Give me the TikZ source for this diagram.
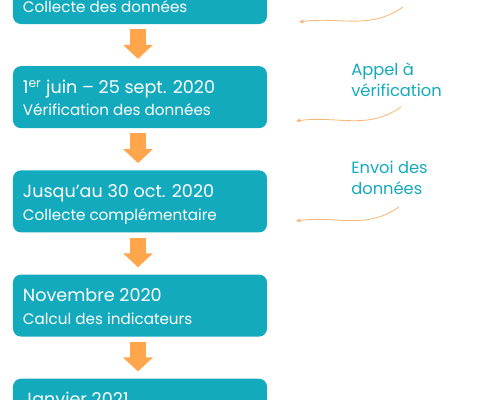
\documentclass[tikz,border=0pt]{standalone}
\usepackage{fontspec}
\setmainfont{Poppins}
\usepackage{xcolor}
\usepackage{tikz}
\usetikzlibrary{positioning,arrows.meta}

\definecolor{boxteal}{HTML}{13AABD}
\definecolor{arroworange}{HTML}{FFA64D}
\definecolor{linkorange}{HTML}{F9B878}

\begin{document}
\begin{tikzpicture}[x=0.025cm,y=0.025cm,
    stepbox/.style={fill=boxteal, rounded corners=0.2cm, minimum width=6.35cm,
        minimum height=1.55cm, inner sep=0pt},
    datetext/.style={anchor=base west, inner sep=0pt, text=white,
        font=\fontsize{12.5}{14}\selectfont},
    steptext/.style={anchor=base west, inner sep=0pt, text=white,
        font=\fontsize{10.8}{12}\selectfont},
    bigarrow/.style={draw=arroworange, line width=0.375cm,
        -{Triangle[width=0.725cm,length=0.35cm]},
        shorten <=0.125cm, shorten >=0.175cm},
    linkarrow/.style={draw=linkorange, line width=0.6pt,
        -{Stealth[length=3.5pt,width=3pt]}},
    linklabel/.style={anchor=base west, inner sep=0pt, align=left, text=boxteal,
        font=\fontsize{11.6}{15.4}\selectfont}]

    % frame
    \useasboundingbox (0,0) rectangle (480,-400);
    \clip (0,0) rectangle (480,-400);

    % steps
    \node[stepbox] (collecte) at (140,7) {};
    \node[stepbox, below=1.04cm of collecte] (verif) {};
    \node[stepbox, below=1.04cm of verif] (complement) {};
    \node[stepbox, below=1.04cm of complement] (calcul) {};
    \node[stepbox, below=1.04cm of calcul] (janvier) {};

    % step texts
    \node[steptext] (collectetxt) at ([shift={(10,-51)}]collecte.north west) {Collecte des données};
    \node[datetext] (verifdate) at ([shift={(10,-27.3)}]verif.north west) {1\textsuperscript{er} juin -- 25 sept. 2020};
    \node[steptext] (veriftxt) at ([shift={(10,-50)}]verif.north west) {Vérification des données};
    \node[datetext] (complementdate) at ([shift={(10,-27.3)}]complement.north west) {Jusqu’au 30 oct. 2020};
    \node[steptext] (complementtxt) at ([shift={(10,-50)}]complement.north west) {Collecte complémentaire};
    \node[datetext] (calculdate) at ([shift={(10,-27.3)}]calcul.north west) {Novembre 2020};
    \node[steptext] (calcultxt) at ([shift={(10,-50)}]calcul.north west) {Calcul des indicateurs};
    \node[datetext] (janvierdate) at ([shift={(10,-27.3)}]janvier.north west) {Janvier 2021};

    % block arrows
    \draw[bigarrow] ([xshift=-0.05cm]collecte.south) -- ([xshift=-0.05cm]verif.north);
    \draw[bigarrow] ([xshift=-0.05cm]verif.south) -- ([xshift=-0.05cm]complement.north);
    \draw[bigarrow] ([xshift=-0.05cm]complement.south) -- ([xshift=-0.05cm]calcul.north);
    \draw[bigarrow] ([xshift=-0.05cm]calcul.south) -- ([xshift=-0.05cm]janvier.north);

    % side labels
    \node[linklabel] (appel) at (351,-96.7) {Appel à\\vérification};
    \node[linklabel] (envoi) at (351,-195) {Envoi des\\données};

    % side arrows
    \coordinate (collectefrom) at (403,-7);
    \coordinate (collecteto) at (299,-22);
    \coordinate (appelfrom) at (401,-107);
    \coordinate (appelto) at (296,-121);
    \coordinate (envoifrom) at (399,-207);
    \coordinate (envoito) at (296,-221);
    \draw[linkarrow] (collectefrom) to[out=215, in=8] (collecteto);
    \draw[linkarrow] (appelfrom) to[out=215, in=8] (appelto);
    \draw[linkarrow] (envoifrom) to[out=215, in=8] (envoito);

\end{tikzpicture}
\end{document}
